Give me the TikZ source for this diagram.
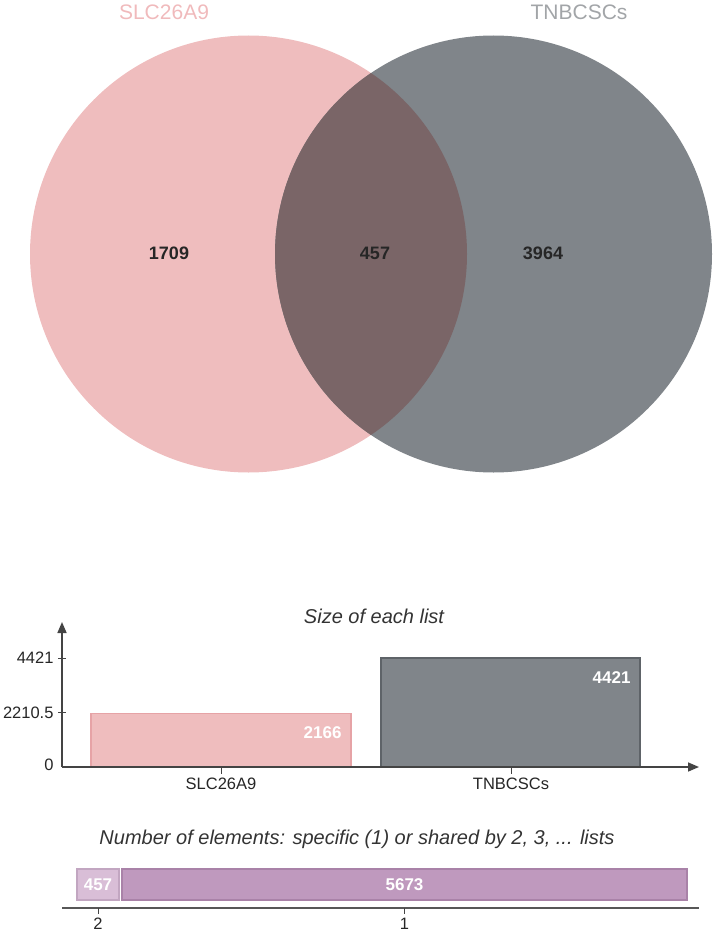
\documentclass[tikz,border=0pt]{standalone}
\usepackage{fontspec}
\setmainfont{Liberation Sans}
\usetikzlibrary{arrows.meta}
\definecolor{pinkc}{HTML}{EFBDBE}
\definecolor{pinkline}{HTML}{E6A3A6}
\definecolor{grayc}{HTML}{80858A}
\definecolor{grayline}{HTML}{5E6368}
\definecolor{interc}{HTML}{7A6567}
\definecolor{pinklab}{HTML}{F0BABC}
\definecolor{graylab}{HTML}{A2A5A8}
\definecolor{axisc}{HTML}{444444}
\definecolor{lilac}{HTML}{D9BED7}
\definecolor{lilacline}{HTML}{C2A6C1}
\definecolor{purp}{HTML}{BF99BE}
\definecolor{purpline}{HTML}{A982A8}
\tikzset{
  vennnum/.style={font=\fontsize{18}{20}\selectfont\bfseries, text=black!85},
  setlab/.style={font=\fontsize{21}{24}\selectfont},
  ticklab/.style={font=\fontsize{16.5}{19}\selectfont, text=black!85},
  titlelab/.style={font=\fontsize{20}{23}\selectfont\itshape, text=black!80},
  barnum/.style={font=\fontsize{17}{19}\selectfont\bfseries, text=white},
  axisline/.style={draw=axisc, line width=1.6pt},
  axisarrow/.style={axisline, -{Triangle[length=11pt,width=9pt]}},
}
\begin{document}
\begin{tikzpicture}[x=1pt,y=1pt]
\useasboundingbox (0,0) rectangle (713,-936);
% Venn
\fill[pinkc] (248.5,-254) circle (218.5);
\fill[grayc] (493.5,-254) circle (218.5);
\begin{scope}
  \clip (248.5,-254) circle (218.5);
  \fill[interc] (493.5,-254) circle (218.5);
\end{scope}
\node[setlab, text=pinklab] (labA) at (164,-12) {SLC26A9};
\node[setlab, text=graylab] (labB) at (579,-12) {TNBCSCs};
\node[vennnum] (nA) at (169,-253) {1709};
\node[vennnum] (nAB) at (375,-253) {457};
\node[vennnum] (nB) at (543,-253) {3964};
% Bar chart
\node[titlelab] (t1) at (374,-616) {Size of each list};
\draw[pinkline, fill=pinkc, line width=1.2pt] (91,-767) rectangle (351,-713.5);
\draw[grayline, fill=grayc, line width=1.2pt] (381,-767) rectangle (640,-658);
\coordinate (o) at (62,-767);
\coordinate (ytop) at (62,-622);
\coordinate (xend) at (699,-767);
\draw[axisarrow] (o) -- (ytop);
\draw[axisarrow] (o) -- (xend);
\draw[axisc, line width=0.8pt] (58,-658) -- (66,-658);
\draw[axisc, line width=0.8pt] (58,-712.5) -- (66,-712.5);
\node[ticklab, anchor=east] (y1) at (57,-658) {4421};
\node[ticklab, anchor=east] (y2) at (57,-712.5) {2210.5};
\node[ticklab, anchor=east] (y0) at (57,-765) {0};
\draw[axisc, line width=0.8pt] (221,-767) -- (221,-774);
\draw[axisc, line width=0.8pt] (511,-767) -- (511,-774);
\node[ticklab] (xA) at (221,-784) {SLC26A9};
\node[ticklab] (xB) at (511,-784) {TNBCSCs};
\node[barnum, anchor=east] (bA) at (345,-733) {2166};
\node[barnum, anchor=east] (bB) at (634,-678) {4421};
% Bottom bar
\node[titlelab] (t2) at (357,-839) {Number of elements: specific (1) or shared by 2, 3, ... lists};
\draw[lilacline, fill=lilac, line width=1.2pt] (77,-869) rectangle (119,-900);
\draw[purpline, fill=purp, line width=1.2pt] (122,-869) rectangle (687,-900);
\node[barnum] (s2) at (98,-884.5) {457};
\node[barnum] (s1) at (404.5,-884.5) {5673};
\coordinate (b0) at (62,-908);
\coordinate (b1) at (699,-908);
\draw[draw=axisc!90, line width=2pt] (b0) -- (b1);
\draw[axisc, line width=0.8pt] (98,-908) -- (98,-914);
\draw[axisc, line width=0.8pt] (404.5,-908) -- (404.5,-914);
\node[ticklab] (k2) at (98,-924) {2};
\node[ticklab] (k1) at (404.5,-924) {1};
\end{tikzpicture}
\end{document}
